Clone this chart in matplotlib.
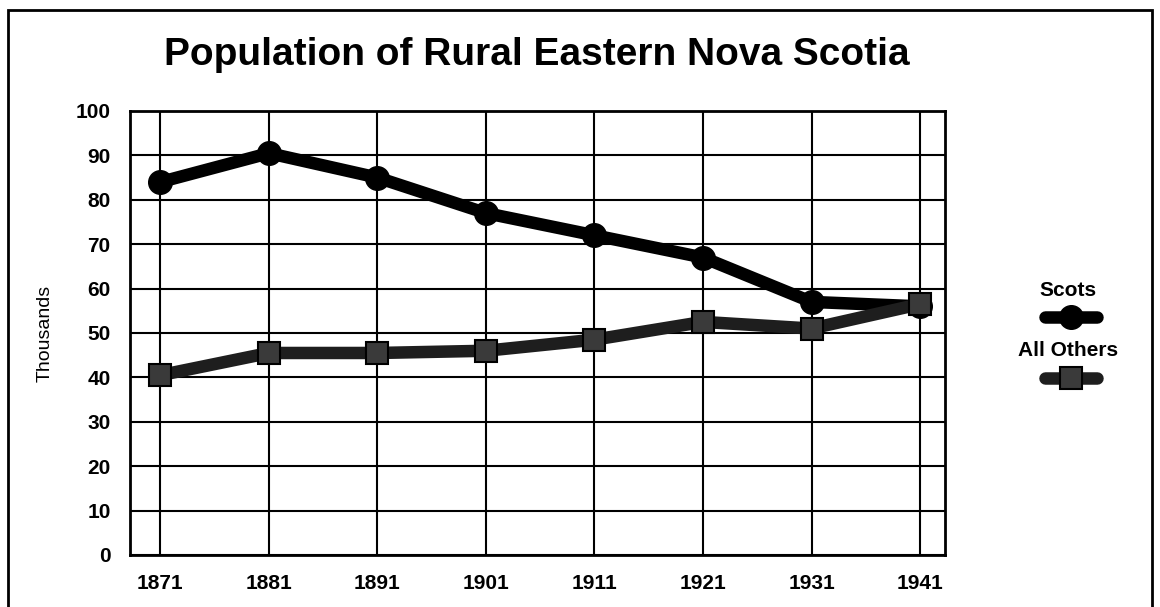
import matplotlib
matplotlib.use('Agg')
import matplotlib.pyplot as plt
from matplotlib.lines import Line2D
from matplotlib.patches import Rectangle

years = [1871, 1881, 1891, 1901, 1911, 1921, 1931, 1941]
scots = [84, 90.5, 85, 77, 72, 67, 57, 56]
others = [40.5, 45.5, 45.5, 46, 48.5, 52.5, 51, 56.5]

plt.rcParams['font.family'] = ['Liberation Sans', 'DejaVu Sans']

fig = plt.figure(figsize=(11.6, 6.07), dpi=100)
ax = fig.add_axes([130/1160, 1 - 555/607, 815/1160, 444/607])

# page border
fig.patches.append(Rectangle((8/1160, -0.1), 1144/1160, 1.1 - 10/607, transform=fig.transFigure,
                             fill=False, edgecolor='black', linewidth=2))

ax.plot(years, scots, color='black', lw=9, marker='o', ms=17,
        mfc='black', mec='black', zorder=3)
ax.plot(years, others, color='#1e1e1e', lw=9, marker='s', ms=16,
        mfc='#3a3a3a', mec='black', mew=1.5, zorder=4)

ax.set_xlim(1868.2, 1943.3)
ax.set_ylim(0, 100)
ax.set_xticks(years)
ax.set_yticks(range(0, 101, 10))
ax.grid(True, color='black', linewidth=1.5)
ax.set_axisbelow(True)
for s in ax.spines.values():
    s.set_linewidth(2)
ax.tick_params(length=0, pad=14, labelsize=15)
for t in ax.get_xticklabels() + ax.get_yticklabels():
    t.set_fontweight('bold')
ax.set_ylabel('Thousands', fontsize=14, labelpad=16)

fig.text(537/1160, 1 - 55/607, 'Population of Rural Eastern Nova Scotia',
         ha='center', va='center', fontsize=28, fontweight='bold')

# legend
fig.text(1068/1160, 1 - 290/607, 'Scots', ha='center', va='center', fontsize=15, fontweight='bold')
fig.add_artist(Line2D([1045/1160, 1097/1160], [1 - 317/607] * 2, color='black', lw=9,
                      solid_capstyle='round'))
fig.add_artist(Line2D([1071/1160], [1 - 317/607], color='black', marker='o', ms=17, lw=0))
fig.text(1068/1160, 1 - 350/607, 'All Others', ha='center', va='center', fontsize=15, fontweight='bold')
fig.add_artist(Line2D([1045/1160, 1097/1160], [1 - 378/607] * 2, color='#1e1e1e', lw=9,
                      solid_capstyle='round'))
fig.add_artist(Line2D([1071/1160], [1 - 378/607], color='black', marker='s', ms=16, lw=0,
                      mfc='#3a3a3a', mew=1.5))

fig.savefig('out.png', dpi=100)
